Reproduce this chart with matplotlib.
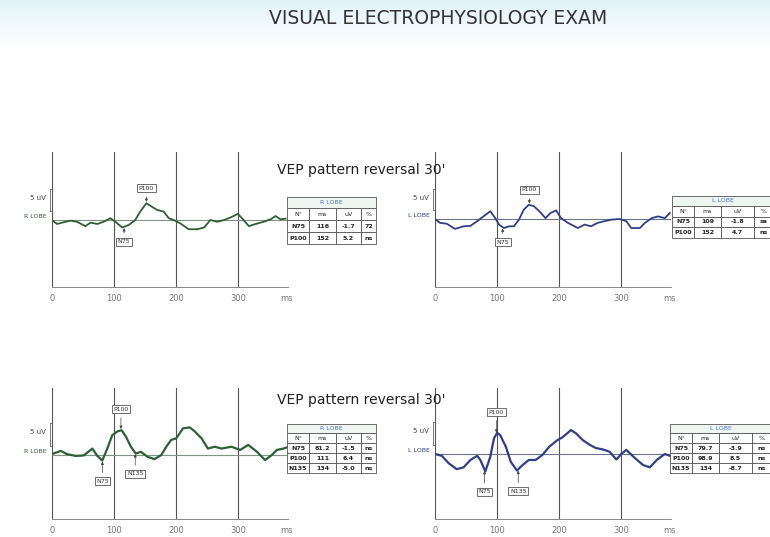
import numpy as np
import matplotlib
matplotlib.use("Agg")
import matplotlib.pyplot as plt
from matplotlib.patches import Rectangle
from matplotlib.lines import Line2D

# ---- data -----------------------------------------------------------------
ms_tl = [0, 8, 19, 30, 40, 54, 62, 73, 83, 94, 102, 113, 124, 134, 142, 152, 161, 169, 180,
         188, 196, 207, 220, 234, 245, 255, 266, 277, 288, 299, 306, 317, 328, 341, 352, 360, 368, 376]
uv_tl = [0.0, -0.9, -0.5, -0.15, -0.4, -1.4, -0.6, -0.9, -0.4, 0.4, -0.4, -1.7, -1.1, 0.0, 1.9, 3.8,
         3.0, 2.3, 1.9, 0.4, 0.0, -0.8, -2.1, -2.1, -1.7, 0.0, -0.4, 0.0, 0.6, 1.4, 0.4, -1.4, -0.9,
         -0.4, 0.15, 0.9, 0.15, 0.3]

ms_tr = [0, 8, 19, 32, 46, 57, 68, 78, 89, 97, 103, 111, 119, 127, 135, 143, 151, 159, 168, 178,
         186, 195, 203, 214, 230, 241, 251, 262, 273, 284, 297, 308, 316, 330, 338, 349, 359, 370, 378]
uv_tr = [0.0, -0.9, -1.1, -2.3, -1.7, -1.6, -0.5, 0.6, 1.8, 0.2, -1.3, -2.1, -1.7, -1.7, -0.2, 2.2,
         3.3, 3.0, 1.8, 0.2, 1.4, 2.0, 0.2, -0.9, -2.1, -1.3, -1.7, -0.9, -0.5, -0.15, 0.0, -0.5,
         -2.1, -2.1, -0.9, 0.2, 0.6, 0.2, 1.4]

ms_bl = [0, 14, 24, 38, 51, 65, 73, 81, 89, 97, 105, 112, 119, 127, 135, 143, 154, 165, 176, 184,
         192, 200, 211, 222, 230, 241, 251, 262, 273, 289, 303, 316, 330, 343, 354, 362, 373, 381]
uv_bl = [0.2, 0.9, 0.2, -0.2, -0.1, 1.4, -0.2, -1.2, 1.4, 4.3, 5.1, 5.4, 4.0, 1.8, 0.3, 0.7, -0.4,
         -0.9, 0.0, 1.8, 3.3, 3.6, 5.8, 6.0, 5.1, 3.6, 1.4, 1.8, 1.4, 1.8, 1.1, 2.2, 0.7, -1.1, 0.0,
         1.1, 1.4, 1.8]

ms_br = [0, 11, 22, 35, 46, 57, 68, 73, 81, 89, 95, 100, 105, 114, 122, 132, 141, 151, 162, 173,
         184, 197, 205, 219, 227, 238, 249, 259, 270, 281, 292, 300, 308, 322, 335, 346, 357, 370, 378]
uv_br = [0.0, -0.4, -2.0, -3.3, -2.9, -1.3, -0.4, -1.3, -3.8, -0.6, 3.4, 4.6, 4.1, 1.6, -1.7,
         -3.6, -2.4, -1.3, -1.3, -0.2, 1.6, 3.0, 3.6, 5.2, 4.5, 3.0, 2.0, 1.3, 1.0, 0.5, -1.2, 0.0,
         0.9, -0.9, -2.4, -2.9, -1.3, 0.0, -0.4]

col_heads = ["N°", "ms", "uV", "%"]
peaks_tl = ["N75", "P100"]
lat_tl = [116, 152]
amp_tl = [-1.7, 5.2]
pct_tl = ["72", "ns"]
peaks_tr = ["N75", "P100"]
lat_tr = [109, 152]
amp_tr = [-1.8, 4.7]
pct_tr = ["sa", "ns"]
peaks_bl = ["N75", "P100", "N135"]
lat_bl = [81.2, 111, 134]
amp_bl = [-1.5, 6.4, -5.0]
pct_bl = ["ns", "ns", "ns"]
peaks_br = ["N75", "P100", "N135"]
lat_br = [79.7, 98.9, 134]
amp_br = [-3.9, 8.5, -8.7]
pct_br = ["ns", "ns", "ns"]
xticks = [0, 100, 200, 300]

W, H = 770, 537
fig = plt.figure(figsize=(W / 100, H / 100), dpi=100)
fig.patch.set_facecolor("white")


def fx(px):
    return px / W


def fy(py):
    return 1 - py / H


# pale band behind the title
bg = fig.add_axes([0, fy(48), 1, 48 / H])
grad = np.linspace(0, 1, 50).reshape(-1, 1)
bg.imshow(grad, aspect="auto", cmap=matplotlib.colors.LinearSegmentedColormap.from_list(
    "band", ["#e2f3f9", "#ffffff"]), extent=[0, 1, 0, 1], origin="upper")
bg.axis("off")
fig.text(fx(438), fy(19), "VISUAL ELECTROPHYSIOLOGY EXAM", ha="center", va="center",
         fontsize=13.5, color="#333333")


def panel(x0, ytop, ybot, base, scale, ms, uv, color, bcolor, side, peaks, lats, off, lw):
    ax = fig.add_axes([fx(x0), fy(ybot), 236 / W, (ybot - ytop) / H])
    ax.set_xlim(0, 380)
    ax.set_ylim(-(ybot - base) / scale, (base - ytop) / scale)
    for s in ["top", "right", "left"]:
        ax.spines[s].set_visible(False)
    ax.spines["bottom"].set_color("#888888")
    ax.spines["bottom"].set_linewidth(0.7)
    for t in xticks:
        ax.axvline(t, color="#555555", lw=0.8)
    ax.axhline(0, color=bcolor, lw=0.8)
    ax.plot(ms, uv, color=color, lw=lw, solid_joinstyle="round")
    ax.set_yticks([])
    ax.set_xticks(xticks + [378])
    ax.set_xticklabels([str(t) for t in xticks] + ["ms"], fontsize=6, color="#777777")
    ax.tick_params(axis="x", length=0, pad=5)
    # 5 uV calibration bracket
    ax.add_line(Line2D([-4, -4], [2, 7], color="#777777", lw=0.7, clip_on=False))
    ax.add_line(Line2D([-4, -2], [7, 7], color="#777777", lw=0.7, clip_on=False))
    ax.add_line(Line2D([-4, -2], [2, 2], color="#777777", lw=0.7, clip_on=False))
    ax.text(-10, 5, "5 uV", ha="right", va="center", fontsize=5, color="#444444")
    ax.text(-8, 0.7, side, ha="right", va="center", fontsize=4.5, color=color)
    for name, lat in zip(peaks, lats):
        yv = np.interp(lat, ms, uv)
        dy = off if name.startswith("P") else -off
        ax.annotate(name, xy=(lat, yv), xytext=(0, dy), textcoords="offset pixels",
                    ha="center", va="center", fontsize=4.5, color="#333333",
                    bbox=dict(boxstyle="square,pad=0.25", fc="white", ec="#555555", lw=0.6),
                    arrowprops=dict(arrowstyle="-|>", lw=0.5, color="#444444",
                                    mutation_scale=4, shrinkA=3, shrinkB=1))
    return ax


def table(x0, y0, widths, rh, title, peaks, lats, amps, pcts, tcolor):
    total = sum(widths)
    rows = [col_heads] + [[p, f"{l:g}", f"{a:.1f}", c] for p, l, a, c in zip(peaks, lats, amps, pcts)]
    fig.add_artist(Rectangle((fx(x0), fy(y0 + rh[0])), total / W, rh[0] / H,
                             fc="#eef6f2", ec="#555555", lw=0.6, clip_on=False))
    fig.text(fx(x0 + total / 2), fy(y0 + rh[0] / 2), title, ha="center", va="center",
             fontsize=4.5, color=tcolor)
    y = y0 + rh[0]
    for i, row in enumerate(rows):
        x = x0
        for w, val in zip(widths, row):
            fig.add_artist(Rectangle((fx(x), fy(y + rh[1])), w / W, rh[1] / H,
                                     fc="white", ec="#555555", lw=0.6, clip_on=False))
            fig.text(fx(x + w / 2), fy(y + rh[1] / 2), val, ha="center", va="center",
                     fontsize=4.5, color="#222222", fontweight="normal" if i == 0 else "bold")
            x += w
        y += rh[1]


green, blue = "#2e5f36", "#323f86"
panel(52, 152, 287, 220, 4.4, ms_tl, uv_tl, green, "#7f9484", "R LOBE", peaks_tl, lat_tl, 15, 1.3)
panel(435, 152, 287, 219, 4.3, ms_tr, uv_tr, blue, "#6c7394", "L LOBE", peaks_tr, lat_tr, 15, 1.3)
panel(52, 388, 519, 455, 4.6, ms_bl, uv_bl, green, "#7f9484", "R LOBE", peaks_bl, lat_bl, 21, 1.6)
panel(435, 388, 519, 454, 4.6, ms_br, uv_br, blue, "#6c7394", "L LOBE", peaks_br, lat_br, 22, 1.6)

fig.text(fx(361), fy(170), "VEP pattern reversal 30'", ha="center", va="center", fontsize=10,
         color="#222222")
fig.text(fx(361), fy(400), "VEP pattern reversal 30'", ha="center", va="center", fontsize=10,
         color="#222222")

table(287, 197, [22, 27, 25, 15], [11, 12], "R LOBE", peaks_tl, lat_tl, amp_tl, pct_tl, "#5577bb")
table(672, 196, [22, 27, 33, 20], [10, 10.5], "L LOBE", peaks_tr, lat_tr, amp_tr, pct_tr, "#5577bb")
table(287, 424, [22, 27, 25, 15], [9, 10], "R LOBE", peaks_bl, lat_bl, amp_bl, pct_bl, "#5577bb")
table(670, 424, [22, 27, 33, 20], [9, 10], "L LOBE", peaks_br, lat_br, amp_br, pct_br, "#5577bb")

fig.savefig("out.png", dpi=100)
